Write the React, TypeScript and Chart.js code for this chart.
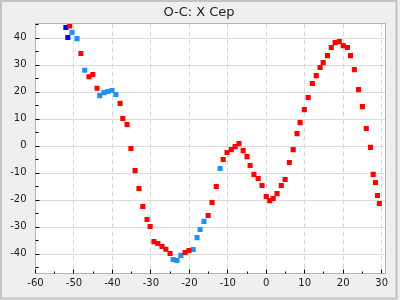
import React, { useEffect, useRef } from 'react';
import { Chart, registerables } from 'chart.js';

Chart.register(...registerables);

const TITLE = 'O-C: X Cep';

const redX = [-51.1, -48.2, -46.1, -45.1, -44.0, -38.0, -37.3, -36.2, -35.2, -34.1, -33.1, -32.1, -31.0, -30.2, -29.2, -28.2, -27.1, -26.1, -25.0, -21.1, -20.1, -15.1, -14.1, -13.0, -11.2, -10.2, -9.1, -8.1, -7.1, -6.0, -5.0, -4.2, -3.2, -2.1, -1.1, 0.0, 0.9, 1.8, 2.8, 3.9, 4.9, 6.0, 7.0, 8.0, 8.8, 9.9, 10.9, 12.0, 13.0, 14.0, 14.8, 15.9, 16.9, 17.9, 19.0, 20.0, 21.1, 21.9, 22.9, 24.0, 25.0, 26.0, 27.1, 27.8, 28.4, 28.9, 29.4];
const redY = [44.3, 34.1, 25.5, 26.3, 21.2, 15.6, 10.0, 7.8, -1.1, -9.3, -15.9, -22.6, -27.4, -30.0, -35.6, -36.3, -37.4, -38.4, -40.0, -39.6, -38.9, -25.9, -21.1, -15.2, -5.2, -2.6, -1.5, -0.4, 0.7, -1.9, -4.1, -7.4, -10.7, -12.2, -14.8, -18.9, -20.4, -19.6, -17.8, -14.8, -12.6, -6.3, -1.5, 4.4, 8.5, 13.3, 17.8, 23.0, 25.9, 28.9, 30.7, 33.3, 36.3, 38.1, 38.5, 37.0, 36.3, 33.3, 28.1, 20.7, 14.4, 6.3, -0.7, -10.7, -13.7, -18.5, -21.5];

const blueX = [-52.1, -51.6];
const blueY = [43.7, 40.0];

const skyX = [-50.5, -49.2, -47.2, -43.3, -42.2, -41.2, -40.1, -39.1, -24.2, -23.2, -22.2, -19.0, -18.0, -17.2, -16.2, -12.0];
const skyY = [41.9, 39.6, 27.9, 18.5, 19.6, 20.0, 20.4, 18.9, -42.2, -42.6, -40.7, -38.5, -34.1, -31.1, -28.1, -8.5];

const xMajor = [-60, -50, -40, -30, -20, -10, 0, 10, 20, 30];
const xMinor = [-55, -45, -35, -25, -15, -5, 5, 15, 25];
const yMajor = [-40, -30, -20, -10, 0, 10, 20, 30, 40];
const yMinor = [-45, -35, -25, -15, -5, 5, 15, 25, 35, 45];

const X_MIN = -60;
const X_MAX = 31;
const Y_MIN = -47.4;
const Y_MAX = 45.2;

const toPts = (xs: number[], ys: number[]) => xs.map((x, i) => ({ x, y: ys[i] }));

const framePlugin = {
  id: 'frame',
  beforeDraw(chart: any) {
    const { ctx, chartArea: a, width, height } = chart;
    ctx.save();
    ctx.fillStyle = '#efefef';
    ctx.fillRect(0, 0, width, height);
    ctx.strokeStyle = '#c4c4c4';
    ctx.lineWidth = 2;
    ctx.strokeRect(1, 1, 395.5, 297.5);
    ctx.fillStyle = '#ffffff';
    ctx.fillRect(a.left, a.top, a.right - a.left, a.bottom - a.top);
    ctx.fillStyle = '#222222';
    ctx.font = '13px "DejaVu Sans"';
    ctx.textAlign = 'center';
    ctx.textBaseline = 'alphabetic';
    ctx.fillText(TITLE, 199, 15.5);
    ctx.restore();
  },
  beforeDatasetsDraw(chart: any) {
    const { ctx, chartArea: a } = chart;
    const xs = chart.scales.x;
    const ys = chart.scales.y;
    ctx.save();
    ctx.lineWidth = 1;
    ctx.strokeStyle = '#dcdcdc';
    ctx.setLineDash([]);
    yMajor.forEach((v) => {
      const p = Math.round(ys.getPixelForValue(v)) + 0.5;
      ctx.beginPath();
      ctx.moveTo(a.left, p);
      ctx.lineTo(a.right, p);
      ctx.stroke();
    });
    ctx.setLineDash([5, 3]);
    ctx.strokeStyle = '#d6d6d6';
    xMajor.forEach((v) => {
      const p = Math.round(xs.getPixelForValue(v) - 0.5) + 0.5;
      ctx.beginPath();
      ctx.moveTo(p, a.top);
      ctx.lineTo(p, a.bottom);
      ctx.stroke();
    });
    ctx.restore();
  },
  afterDraw(chart: any) {
    const { ctx, chartArea: a } = chart;
    const xs = chart.scales.x;
    const ys = chart.scales.y;
    ctx.save();
    ctx.lineWidth = 1;
    ctx.strokeStyle = '#b4b4b4';
    ctx.strokeRect(a.left, a.top, a.right - a.left, a.bottom - a.top);
    ctx.strokeStyle = '#000000';
    const tickY = (v: number, len: number) => {
      const p = Math.round(ys.getPixelForValue(v)) + 0.5;
      if (p < a.top || p > a.bottom) return;
      ctx.beginPath();
      ctx.moveTo(a.left, p);
      ctx.lineTo(a.left + len, p);
      ctx.stroke();
    };
    const tickX = (v: number, len: number) => {
      const p = Math.round(xs.getPixelForValue(v) - 0.5) + 0.5;
      if (p < a.left || p > a.right) return;
      ctx.beginPath();
      ctx.moveTo(p, a.bottom);
      ctx.lineTo(p, a.bottom - len);
      ctx.stroke();
    };
    yMajor.forEach((v) => tickY(v, 4));
    yMinor.forEach((v) => tickY(v, 3));
    xMajor.forEach((v) => tickX(v, 4));
    xMinor.forEach((v) => tickX(v, 2));
    ctx.restore();
  },
};

export default function App() {
  const ref = useRef<HTMLCanvasElement | null>(null);
  useEffect(() => {
    if (!ref.current) return;
    const common = {
      type: 'scatter' as const,
      pointStyle: 'rect',
      pointRadius: 3.6,
      pointHoverRadius: 3.6,
      pointBorderWidth: 0,
      borderWidth: 0,
    };
    const chart = new Chart(ref.current, {
      type: 'scatter',
      data: {
        datasets: [
          { ...common, label: 'red', data: toPts(redX, redY), backgroundColor: '#ff0000', borderColor: '#ff0000' },
          { ...common, label: 'blue', data: toPts(blueX, blueY), backgroundColor: '#0000ff', borderColor: '#0000ff' },
          { ...common, label: 'sky', data: toPts(skyX, skyY), backgroundColor: '#1e90ff', borderColor: '#1e90ff' },
        ] as any,
      },
      options: {
        responsive: false,
        animation: false,
        devicePixelRatio: 1,
        layout: { padding: { top: 23.5, right: 14.5, left: 0, bottom: 0 } },
        plugins: {
          legend: { display: false },
          title: { display: false },
          tooltip: { enabled: false },
        },
        scales: {
          x: {
            type: 'linear',
            min: X_MIN,
            max: X_MAX,
            grid: { display: false, drawTicks: false },
            border: { display: false },
            afterBuildTicks: (s: any) => {
              s.ticks = xMajor.map((v) => ({ value: v }));
            },
            afterFit: (s: any) => {
              s.height = 26.5;
            },
            ticks: {
              autoSkip: false,
              maxRotation: 0,
              padding: 4,
              color: '#1a1a1a',
              font: { family: '"DejaVu Sans"', size: 10 },
            },
          },
          y: {
            type: 'linear',
            min: Y_MIN,
            max: Y_MAX,
            grid: { display: false, drawTicks: false },
            border: { display: false },
            afterBuildTicks: (s: any) => {
              s.ticks = yMajor.map((v) => ({ value: v }));
            },
            afterFit: (s: any) => {
              s.width = 35.5;
            },
            ticks: {
              autoSkip: false,
              padding: 9,
              color: '#1a1a1a',
              font: { family: '"DejaVu Sans"', size: 10 },
            },
          },
        },
      } as any,
      plugins: [framePlugin],
    });
    return () => chart.destroy();
  }, []);
  return (
    <div style={{ position: 'fixed', left: 0, top: 0, width: 400, height: 300 }}>
      <canvas ref={ref} width={400} height={300} style={{ display: 'block', width: 400, height: 300 }} />
    </div>
  );
}
